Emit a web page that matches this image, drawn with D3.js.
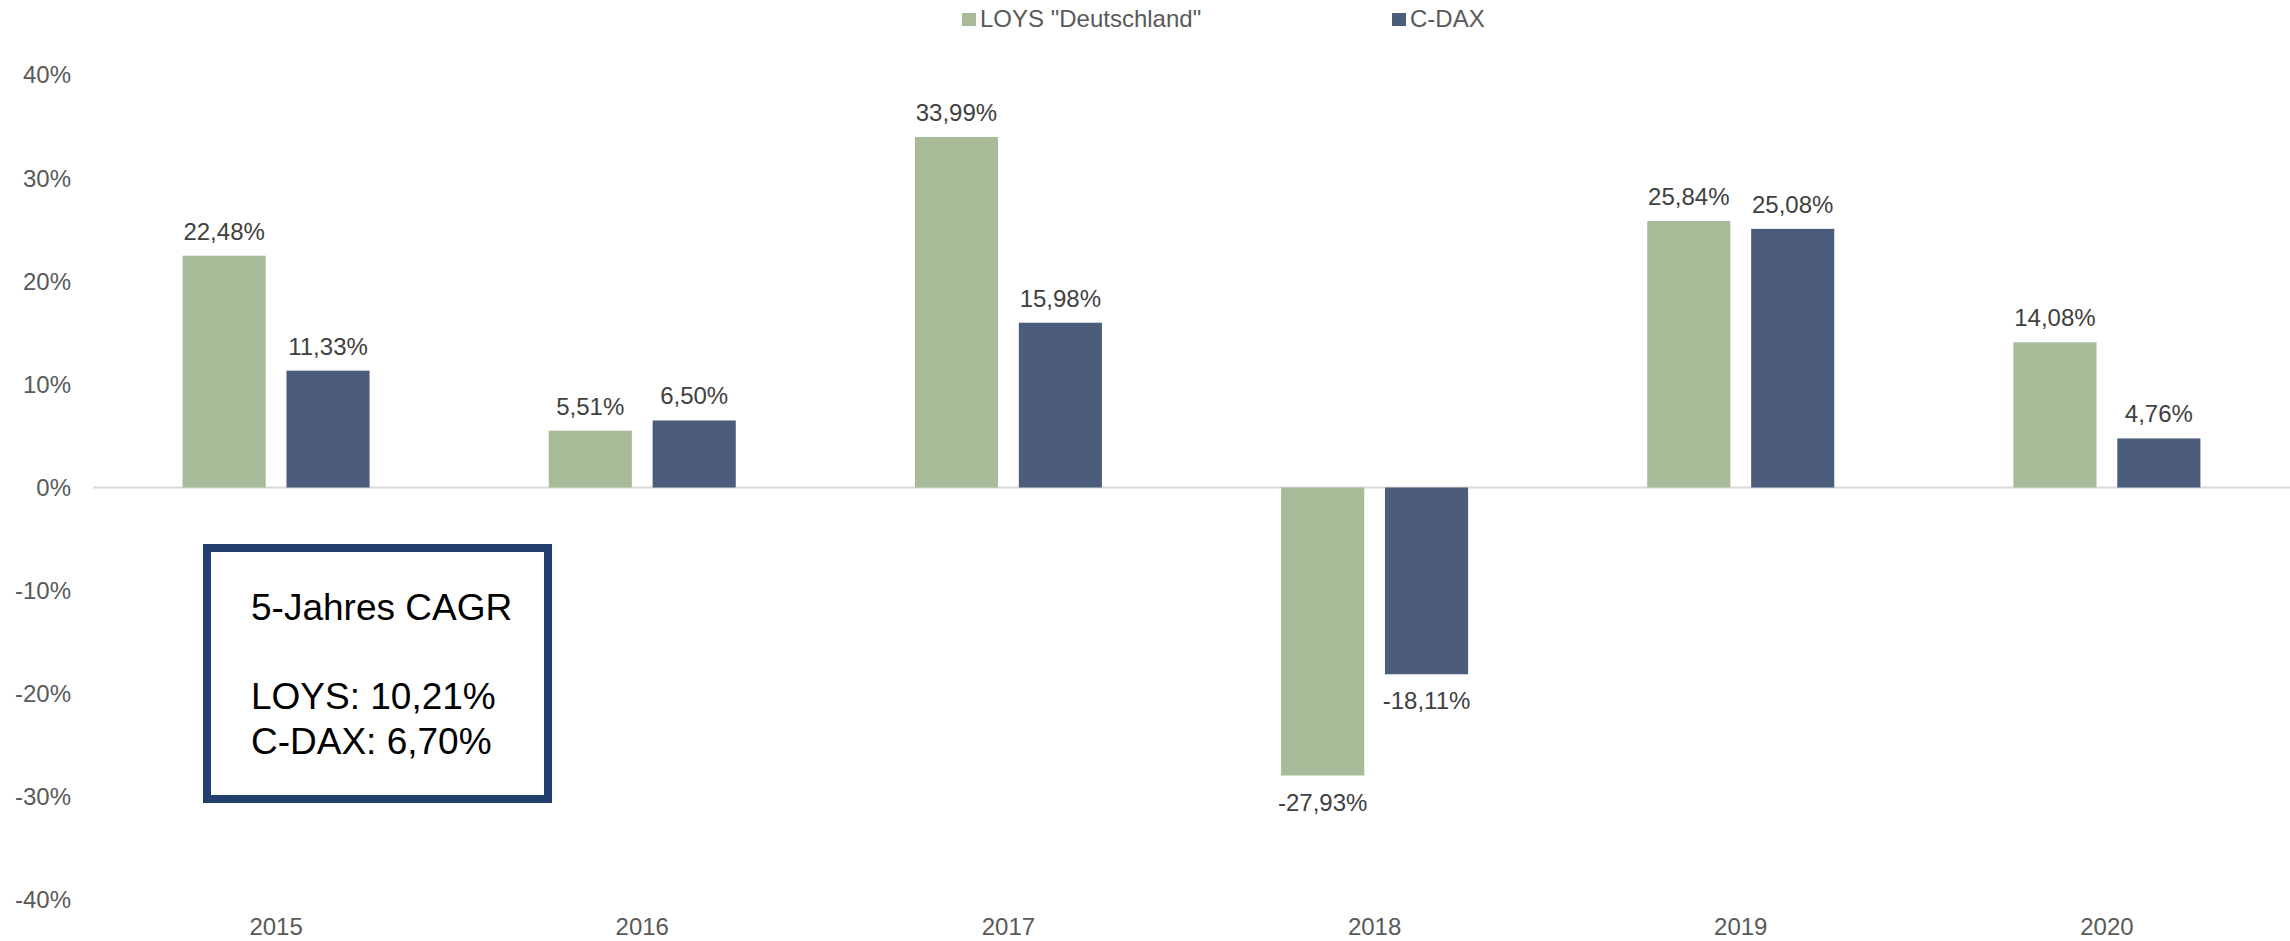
<!DOCTYPE html>
<html>
<head>
<meta charset="utf-8">
<script src="https://cdn.jsdelivr.net/npm/d3@7"></script>
<style>
  html, body { margin: 0; padding: 0; background: #fff; }
  svg { display: block; font-family: "Liberation Sans", Arial, sans-serif; }
</style>
</head>
<body>
<script>
// data
var years = ["2015", "2016", "2017", "2018", "2019", "2020"];
var seriesNames = ['LOYS "Deutschland"', "C-DAX"];
var loys = [22.48, 5.51, 33.99, -27.93, 25.84, 14.08];
var cdax = [11.33, 6.50, 15.98, -18.11, 25.08, 4.76];
var yTicks = [-40, -30, -20, -10, 0, 10, 20, 30, 40];
var boxLines = ["5-Jahres CAGR", "", "LOYS: 10,21%", "C-DAX: 6,70%"];

var width = 2290,
    height = 941;

var colors = ["#a7bb98", "#4b5d7b"];

var svg = d3.select("body")
    .append("svg")
    .attr("width", width)
    .attr("height", height);

var x0 = d3.scaleBand()
    .domain(years)
    .range([93, 2290])
    .padding(0);

var groupW = 187;
var x1 = d3.scaleBand()
    .domain(seriesNames)
    .range([(x0.bandwidth() - groupW) / 2, (x0.bandwidth() + groupW) / 2])
    .paddingInner(0.2);

var y = d3.scaleLinear()
    .domain([-40, 40])
    .range([900, 75]);

var fmt = function (v) {
    return v.toFixed(2).replace(".", ",") + "%";
};

// y tick labels
svg.append("g")
    .selectAll("text")
    .data(yTicks)
    .enter().append("text")
    .attr("x", 71)
    .attr("y", d => y(d))
    .attr("dy", "0.35em")
    .attr("text-anchor", "end")
    .attr("font-size", "24px")
    .attr("fill", "#595959")
    .text(d => d + "%");

// zero line
svg.append("line")
    .attr("x1", 93)
    .attr("x2", 2290)
    .attr("y1", y(0))
    .attr("y2", y(0))
    .attr("stroke", "#d9d9d9")
    .attr("stroke-width", 2);

// bars
var rows = years.map(function (yr, i) {
    return { year: yr, values: [loys[i], cdax[i]] };
});

var groups = svg.append("g")
    .selectAll("g")
    .data(rows)
    .enter().append("g")
    .attr("transform", d => "translate(" + x0(d.year) + ",0)");

groups.selectAll("rect")
    .data(d => d.values.map((v, k) => ({ key: seriesNames[k], value: v, k: k })))
    .enter().append("rect")
    .attr("x", d => x1(d.key))
    .attr("width", x1.bandwidth())
    .attr("y", d => y(Math.max(0, d.value)))
    .attr("height", d => Math.abs(y(d.value) - y(0)))
    .attr("fill", d => colors[d.k]);

groups.selectAll("text")
    .data(d => d.values.map((v, k) => ({ key: seriesNames[k], value: v, k: k })))
    .enter().append("text")
    .attr("x", d => x1(d.key) + x1.bandwidth() / 2)
    .attr("y", d => d.value >= 0 ? y(d.value) - 16 : y(d.value) + 35)
    .attr("text-anchor", "middle")
    .attr("font-size", "24px")
    .attr("fill", "#404040")
    .text(d => fmt(d.value));

// year labels
svg.append("g")
    .selectAll("text")
    .data(years)
    .enter().append("text")
    .attr("x", d => x0(d) + x0.bandwidth() / 2)
    .attr("y", 935)
    .attr("text-anchor", "middle")
    .attr("font-size", "24px")
    .attr("fill", "#595959")
    .text(d => d);

// legend
var legendX = [962, 1392];
var legend = svg.append("g")
    .selectAll("g")
    .data(seriesNames)
    .enter().append("g")
    .attr("transform", (d, i) => "translate(" + legendX[i] + ",0)");

legend.append("rect")
    .attr("x", 0)
    .attr("y", 13)
    .attr("width", 14)
    .attr("height", 13)
    .attr("fill", (d, i) => colors[i]);

legend.append("text")
    .attr("x", 18)
    .attr("y", 27)
    .attr("font-size", "24px")
    .attr("fill", "#595959")
    .text(d => d);

// CAGR box
svg.append("rect")
    .attr("x", 207)
    .attr("y", 548)
    .attr("width", 341)
    .attr("height", 251)
    .attr("fill", "#fff")
    .attr("stroke", "#233f6e")
    .attr("stroke-width", 8);

svg.append("g")
    .selectAll("text")
    .data(boxLines)
    .enter().append("text")
    .attr("x", 251)
    .attr("y", (d, i) => 620 + i * 44.5)
    .attr("font-size", "37px")
    .attr("fill", "#000")
    .text(d => d);
</script>
</body>
</html>
